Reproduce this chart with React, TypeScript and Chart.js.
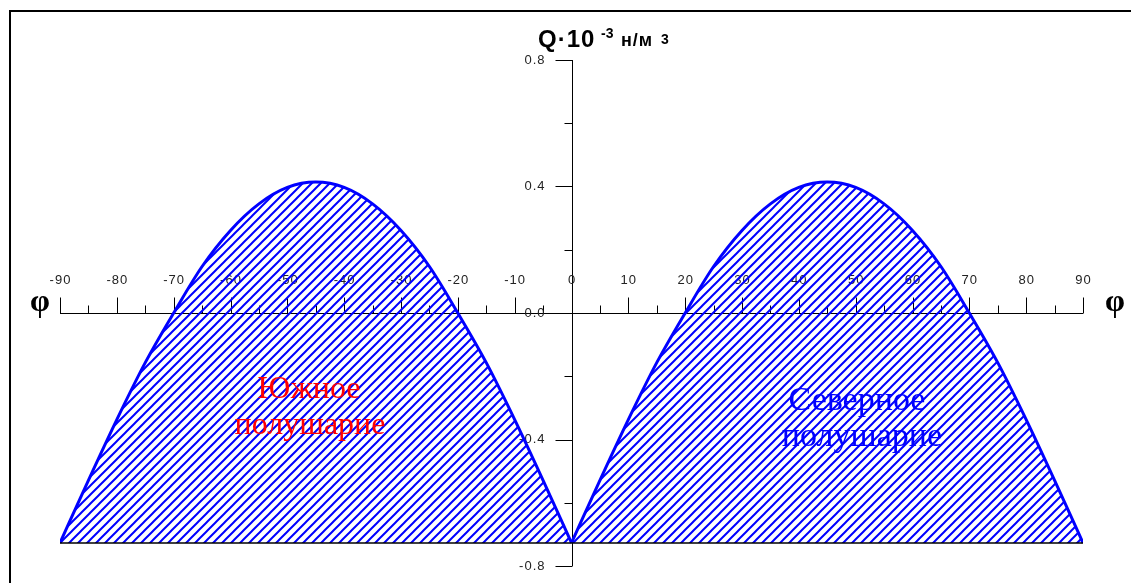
import React, { useEffect, useRef } from 'react';
import { Chart, registerables } from 'chart.js';

Chart.register(...registerables);

// Latitude (degrees) and Q·10^-3 values
const southLatitudes = [-90, -85, -80, -75, -70, -65, -60, -55, -50, -45, -40, -35, -30, -25, -20, -15, -10, -5, 0];
const southValues = [-0.727, -0.529, -0.337, -0.157, 0.0, 0.147, 0.261, 0.345, 0.397, 0.414, 0.397, 0.345, 0.261, 0.147, 0.0, -0.157, -0.337, -0.529, -0.727];
const northLatitudes = [0, 5, 10, 15, 20, 25, 30, 35, 40, 45, 50, 55, 60, 65, 70, 75, 80, 85, 90];
const northValues = [-0.727, -0.529, -0.337, -0.157, 0.0, 0.147, 0.261, 0.345, 0.397, 0.414, 0.397, 0.345, 0.261, 0.147, 0.0, -0.157, -0.337, -0.529, -0.727];
const baseLatitudes = [-90, 90];
const baseValues = [-0.727, -0.727];

const xMajorTicks = [-90, -80, -70, -60, -50, -40, -30, -20, -10, 0, 10, 20, 30, 40, 50, 60, 70, 80, 90];
const xMinorTicks = [-85, -75, -65, -55, -45, -35, -25, -15, -5, 5, 15, 25, 35, 45, 55, 65, 75, 85];
const yMajorTicks = [-0.8, -0.4, 0.0, 0.4, 0.8];
const yMajorLabels = ['-0.8', '-0.4', '0.0', '0.4', '0.8'];
const yMinorTicks = [-0.6, -0.2, 0.2, 0.6];

const southLabel = ['Южное', 'полушарие'];
const northLabel = ['Северное', 'полушарие'];

const W = 1131;
const H = 583;

export default function App() {
  const ref = useRef<HTMLCanvasElement | null>(null);

  useEffect(() => {
    const canvas = ref.current;
    if (!canvas) return;

    const pc = document.createElement('canvas');
    pc.width = 9;
    pc.height = 9;
    const g = pc.getContext('2d')!;
    g.strokeStyle = '#0000ff';
    g.lineWidth = 2;
    g.beginPath();
    g.moveTo(-1, 10);
    g.lineTo(10, -1);
    g.moveTo(-2, 2);
    g.lineTo(2, -2);
    g.moveTo(7, 11);
    g.lineTo(11, 7);
    g.stroke();
    const hatch = g.createPattern(pc, 'repeat')!;

    const setSpacing = (ctx: any, v: string) => {
      try {
        ctx.letterSpacing = v;
      } catch (e) {
        /* ignore */
      }
    };

    const axesPlugin = {
      id: 'axesPlugin',
      beforeDatasetsDraw(chart: any) {
        const ctx = chart.ctx;
        const xs = chart.scales.x;
        const ys = chart.scales.y;
        const y0 = Math.round(ys.getPixelForValue(0)) + 0.5;
        const x0 = Math.round(xs.getPixelForValue(0)) + 0.5;
        ctx.save();
        ctx.strokeStyle = '#000';
        ctx.lineWidth = 1;
        // x axis line
        ctx.beginPath();
        ctx.moveTo(xs.getPixelForValue(-90), y0);
        ctx.lineTo(xs.getPixelForValue(90), y0);
        ctx.stroke();
        // x ticks
        ctx.beginPath();
        xMajorTicks.forEach((v) => {
          const px = Math.round(xs.getPixelForValue(v)) + 0.5;
          ctx.moveTo(px, y0);
          ctx.lineTo(px, y0 - 16);
        });
        xMinorTicks.forEach((v) => {
          const px = Math.round(xs.getPixelForValue(v)) + 0.5;
          ctx.moveTo(px, y0);
          ctx.lineTo(px, y0 - 8);
        });
        ctx.stroke();
        // y axis
        ctx.beginPath();
        ctx.moveTo(x0, ys.getPixelForValue(0.8));
        ctx.lineTo(x0, ys.getPixelForValue(-0.8));
        yMajorTicks.forEach((v) => {
          const py = Math.round(ys.getPixelForValue(v)) + 0.5;
          ctx.moveTo(x0, py);
          ctx.lineTo(x0 - 17, py);
        });
        yMinorTicks.forEach((v) => {
          const py = Math.round(ys.getPixelForValue(v)) + 0.5;
          ctx.moveTo(x0, py);
          ctx.lineTo(x0 - 8, py);
        });
        ctx.stroke();
        // labels
        ctx.fillStyle = '#222';
        ctx.font = '13px "Liberation Sans", Arial, sans-serif';
        setSpacing(ctx, '1px');
        ctx.textAlign = 'center';
        ctx.textBaseline = 'middle';
        xMajorTicks.forEach((v) => {
          ctx.fillText(String(v), xs.getPixelForValue(v) + 0.5, y0 - 33);
        });
        ctx.textAlign = 'right';
        yMajorTicks.forEach((v, i) => {
          ctx.fillText(yMajorLabels[i], x0 - 27, ys.getPixelForValue(v));
        });
        setSpacing(ctx, '0px');
        // phi labels
        ctx.fillStyle = '#000';
        ctx.font = 'bold 32px "Liberation Serif", "Times New Roman", serif';
        ctx.textAlign = 'center';
        ctx.textBaseline = 'alphabetic';
        ctx.fillText('φ', 40, 311);
        ctx.fillText('φ', 1115, 311);
        ctx.restore();
      },
      afterDatasetsDraw(chart: any) {
        const ctx = chart.ctx;
        ctx.save();
        ctx.textAlign = 'center';
        ctx.textBaseline = 'alphabetic';
        ctx.font = '32px "Liberation Serif", "Times New Roman", serif';
        ctx.fillStyle = '#ff0000';
        ctx.fillText(southLabel[0], 309, 398);
        ctx.fillText(southLabel[1], 310, 434);
        ctx.font = '34px "Liberation Serif", "Times New Roman", serif';
        ctx.fillStyle = '#0000ff';
        ctx.fillText(northLabel[0], 857, 410);
        ctx.fillText(northLabel[1], 862, 446);

        // title
        ctx.fillStyle = '#000';
        ctx.textAlign = 'left';
        ctx.font = 'bold 24px "Liberation Sans", Arial, sans-serif';
        setSpacing(ctx, '1px');
        ctx.fillText('Q·10', 538, 47);
        setSpacing(ctx, '0px');
        ctx.font = 'bold 14px "Liberation Sans", Arial, sans-serif';
        ctx.fillText('-3', 601, 38);
        ctx.font = 'bold 18px "Liberation Sans", Arial, sans-serif';
        setSpacing(ctx, '1px');
        ctx.fillText('н/м', 621, 46);
        setSpacing(ctx, '0px');
        ctx.font = 'bold 14px "Liberation Sans", Arial, sans-serif';
        ctx.fillText('3', 661, 44);

        // frame
        ctx.strokeStyle = '#000';
        ctx.lineWidth = 2;
        ctx.beginPath();
        ctx.moveTo(10, H);
        ctx.lineTo(10, 11);
        ctx.lineTo(W, 11);
        ctx.stroke();
        ctx.restore();
      },
    };

    const toPoints = (xs: number[], ys: number[]) => xs.map((x, i) => ({ x, y: ys[i] }));

    const chart = new Chart(canvas, {
      type: 'line',
      data: {
        datasets: [
          {
            label: 'base',
            data: toPoints(baseLatitudes, baseValues),
            borderColor: '#000',
            borderWidth: 1.5,
            pointRadius: 0,
            fill: false,
          },
          {
            label: 'Южное полушарие',
            data: toPoints(southLatitudes, southValues),
            borderColor: '#0000ff',
            borderWidth: 3,
            pointRadius: 0,
            cubicInterpolationMode: 'monotone',
            fill: { value: -0.727 },
            backgroundColor: hatch,
          },
          {
            label: 'Северное полушарие',
            data: toPoints(northLatitudes, northValues),
            borderColor: '#0000ff',
            borderWidth: 3,
            pointRadius: 0,
            cubicInterpolationMode: 'monotone',
            fill: { value: -0.727 },
            backgroundColor: hatch,
          },
        ],
      } as any,
      options: {
        responsive: false,
        animation: false,
        layout: { padding: { left: 60, right: 48, top: 60, bottom: 17 } },
        scales: {
          x: { type: 'linear', min: -90, max: 90, display: false },
          y: { type: 'linear', min: -0.8, max: 0.8, display: false },
        },
        plugins: {
          legend: { display: false },
          tooltip: { enabled: false },
        },
      },
      plugins: [axesPlugin],
    });

    return () => chart.destroy();
  }, []);

  return (
    <div style={{ position: 'fixed', left: 0, top: 0, width: W, height: H, background: '#fff' }}>
      <canvas ref={ref} width={W} height={H} style={{ display: 'block' }} />
    </div>
  );
}
